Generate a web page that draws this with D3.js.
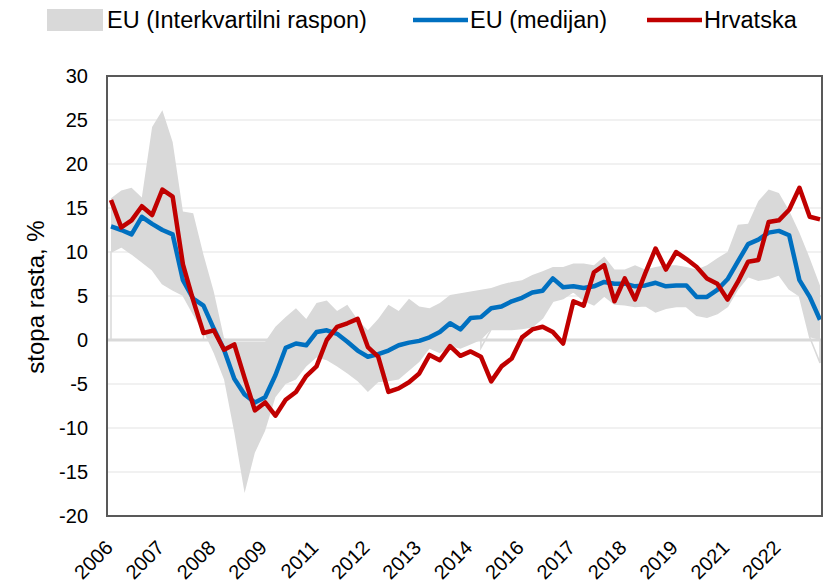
<!DOCTYPE html>
<html>
<head>
<meta charset="utf-8">
<script src="https://cdn.jsdelivr.net/npm/d3@7"></script>
<style>
  body { margin: 0; background: #fff; }
  svg { display: block; font-family: "Liberation Sans", Arial, sans-serif; }
</style>
</head>
<body>
<div id="chart"></div>
<script>
// quarterly data, 2006Q1 - 2023Q2
const startYear = 2006;
const quarters = [];
for (let i = 0; i < 70; i++) {
  quarters.push(`${startYear + Math.floor(i / 4)}Q${(i % 4) + 1}`);
}

// x axis shows every 5th quarter, year only
const tickEvery = 5;

const yTicks = [30, 25, 20, 15, 10, 5, 0, -5, -10, -15, -20];

const hrvatska = [
  15.9, 12.8, 13.6, 15.2, 14.2, 17.1, 16.3, 8.6, 4.5, 0.8,
  1.1, -1.1, -0.5, -4.3, -8.0, -7.1, -8.6, -6.8, -5.9, -4.1,
  -3.0, 0.0, 1.5, 1.9, 2.4, -0.8, -1.9, -5.9, -5.5, -4.8,
  -3.8, -1.7, -2.3, -0.7, -1.8, -1.3, -1.9, -4.7, -3.0, -2.1,
  0.3, 1.2, 1.5, 0.9, -0.4, 4.4, 3.9, 7.7, 8.5, 4.4,
  7.0, 4.6, 7.6, 10.4, 8.0, 10.0, 9.2, 8.3, 7.0, 6.4,
  4.6, 6.6, 8.9, 9.1, 13.4, 13.6, 14.8, 17.3, 14.0, 13.7
];

const euMedian = [
  12.9, 12.5, 12.0, 14.0, 13.2, 12.5, 12.0, 6.8, 4.7, 3.9,
  1.3, -1.1, -4.4, -6.2, -7.1, -6.5, -4.0, -0.9, -0.4, -0.6,
  0.9, 1.1, 0.7, -0.2, -1.2, -1.9, -1.6, -1.2, -0.6, -0.3,
  -0.1, 0.3, 0.9, 1.9, 1.2, 2.5, 2.6, 3.6, 3.8, 4.4,
  4.8, 5.4, 5.6, 7.0, 6.0, 6.1, 5.9, 6.1, 6.6, 6.4,
  6.4, 6.1, 6.2, 6.5, 6.1, 6.2, 6.2, 4.9, 4.9, 5.7,
  6.9, 8.9, 10.9, 11.4, 12.2, 12.4, 11.9, 6.8, 4.9, 2.3
];

const euP75 = [
  16.1, 17.0, 17.3, 16.2, 24.2, 26.1, 22.5, 14.6, 14.4, 9.7,
  5.5, 0.2, -0.2, -0.2, -0.2, -0.2, 1.5, 2.6, 3.6, 2.4,
  4.2, 4.5, 3.3, 4.0, 2.3, 1.1, 2.4, 4.0, 3.3, 4.7,
  3.8, 3.6, 4.2, 5.1, 5.3, 5.5, 5.7, 5.9, 6.3, 6.6,
  6.8, 7.4, 7.8, 8.3, 8.3, 8.7, 8.7, 8.5, 9.5, 8.0,
  8.0, 8.5, 8.0, 8.3, 8.5, 8.5, 8.3, 8.0, 8.5, 9.3,
  10.0, 13.1, 13.2, 15.8, 17.1, 16.7, 14.7, 12.2, 9.3, 6.2
];

const euP25 = [
  10.0, 10.6, 9.8, 8.9, 8.0, 6.4, 5.7, 5.1, 3.0, 1.0,
  -1.5, -4.5, -10.5, -17.4, -12.8, -10.3, -6.5, -5.0, -4.5, -3.0,
  -2.0, -2.3, -3.0, -3.8, -4.7, -5.9, -4.8, -4.7, -4.5, -3.5,
  -2.5, -1.0, -1.5, -0.7, -1.0, -0.5, -0.9, 1.2, 1.2, 1.2,
  1.3, 1.5, 2.5, 4.4, 4.7, 5.5, 4.5, 4.0, 5.0, 4.1,
  4.0, 3.8, 3.9, 3.2, 3.6, 3.8, 3.8, 2.8, 2.6, 3.0,
  3.8, 5.8, 7.2, 6.8, 7.0, 7.4, 5.8, 5.0, 0.3, -2.6
];

// in the source the grey band reaches below zero only in this stretch
const negBandFrom = "2008Q3";
const negBandTo = "2014Q4";

const legendItems = [
  { label: "EU (Interkvartilni raspon)", type: "area", color: "#d9d9d9" },
  { label: "EU (medijan)", type: "line", color: "#0070c0" },
  { label: "Hrvatska", type: "line", color: "#c00000" }
];

const width = 826, height = 587;
const margin = { top: 76, right: 4, bottom: 71, left: 107 };
const innerW = width - margin.left - margin.right;
const innerH = height - margin.top - margin.bottom;

const svg = d3.select("#chart").append("svg")
  .attr("width", width)
  .attr("height", height);

const g = svg.append("g")
  .attr("transform", `translate(${margin.left},${margin.top})`);

const x = d3.scalePoint()
  .domain(quarters)
  .range([4, innerW - 2]);

const y = d3.scaleLinear()
  .domain([-20, 30])
  .range([innerH, 0]);

// gridlines
g.append("g")
  .selectAll("line")
  .data(yTicks.filter(d => d !== 0 && d !== 30))
  .join("line")
  .attr("x1", 0).attr("x2", innerW)
  .attr("y1", d => y(d)).attr("y2", d => y(d))
  .attr("stroke", "#ededed")
  .attr("stroke-width", 1.5);

// band: below zero only in the crisis stretch, otherwise floor at zero
const iFrom = quarters.indexOf(negBandFrom);
const iTo = quarters.indexOf(negBandTo);
const bandLow = (i) => (i >= iFrom && i <= iTo) ? euP25[i] : Math.max(euP25[i], 0);

const idx = d3.range(quarters.length);

g.append("path")
  .datum(idx)
  .attr("fill", "#d9d9d9")
  .attr("d", d3.area()
    .x(i => x(quarters[i]))
    .y0(i => y(bandLow(i)))
    .y1(i => y(euP75[i])));

// outline of the lower-quartile series outside the crisis stretch
const outline = d3.area()
  .x(i => x(quarters[i]))
  .y0(() => y(0))
  .y1(i => y(euP25[i]));

[idx.filter(i => i < iFrom), idx.filter(i => i > iTo)].forEach(seg => {
  g.append("path")
    .datum(seg)
    .attr("fill", "none")
    .attr("stroke", "#d9d9d9")
    .attr("stroke-width", 1.5)
    .attr("d", outline);
});

// zero line
g.append("line")
  .attr("x1", 0).attr("x2", innerW)
  .attr("y1", y(0)).attr("y2", y(0))
  .attr("stroke", "#d9d9d9")
  .attr("stroke-width", 3);

// series lines
const line = (values) => d3.line()
  .x((d, i) => x(quarters[i]))
  .y(d => y(d))(values);

g.append("path")
  .attr("d", line(euMedian))
  .attr("fill", "none")
  .attr("stroke", "#0070c0")
  .attr("stroke-width", 4.5)
  .attr("stroke-linejoin", "round");

g.append("path")
  .attr("d", line(hrvatska))
  .attr("fill", "none")
  .attr("stroke", "#c00000")
  .attr("stroke-width", 4.5)
  .attr("stroke-linejoin", "round");

// plot frame
g.append("rect")
  .attr("x", 0).attr("y", 0)
  .attr("width", innerW).attr("height", innerH)
  .attr("fill", "none")
  .attr("stroke", "#595959")
  .attr("stroke-width", 2);

// y tick labels
g.append("g")
  .selectAll("text")
  .data(yTicks)
  .join("text")
  .attr("x", -19)
  .attr("y", d => y(d))
  .attr("dy", "0.35em")
  .attr("text-anchor", "end")
  .attr("font-size", 20)
  .attr("fill", "#000")
  .text(d => d);

// x tick labels
g.append("g")
  .selectAll("text")
  .data(quarters.filter((q, i) => i % tickEvery === 0))
  .join("text")
  .attr("transform", d => `translate(${x(d) + 3},${innerH + 33}) rotate(-45)`)
  .attr("text-anchor", "end")
  .attr("font-size", 20)
  .attr("fill", "#000")
  .text(d => d.slice(0, 4));

// y axis title
svg.append("text")
  .attr("transform", `translate(44,297) rotate(-90)`)
  .attr("text-anchor", "middle")
  .attr("font-size", 24)
  .attr("fill", "#000")
  .text("stopa rasta, %");

// legend
const legendX = [47, 413, 647];
const legend = svg.append("g");
legendItems.forEach((item, k) => {
  const lg = legend.append("g").attr("transform", `translate(${legendX[k]},20)`);
  if (item.type === "area") {
    lg.append("rect")
      .attr("x", 0).attr("y", -11)
      .attr("width", 56).attr("height", 22)
      .attr("fill", item.color);
  } else {
    lg.append("line")
      .attr("x1", 0).attr("x2", 55)
      .attr("y1", 0).attr("y2", 0)
      .attr("stroke", item.color)
      .attr("stroke-width", 4.5);
  }
  lg.append("text")
    .attr("x", item.type === "area" ? 60 : 57)
    .attr("dy", "0.35em")
    .attr("font-size", 23.5)
    .attr("fill", "#000")
    .text(item.label);
});
</script>
</body>
</html>
